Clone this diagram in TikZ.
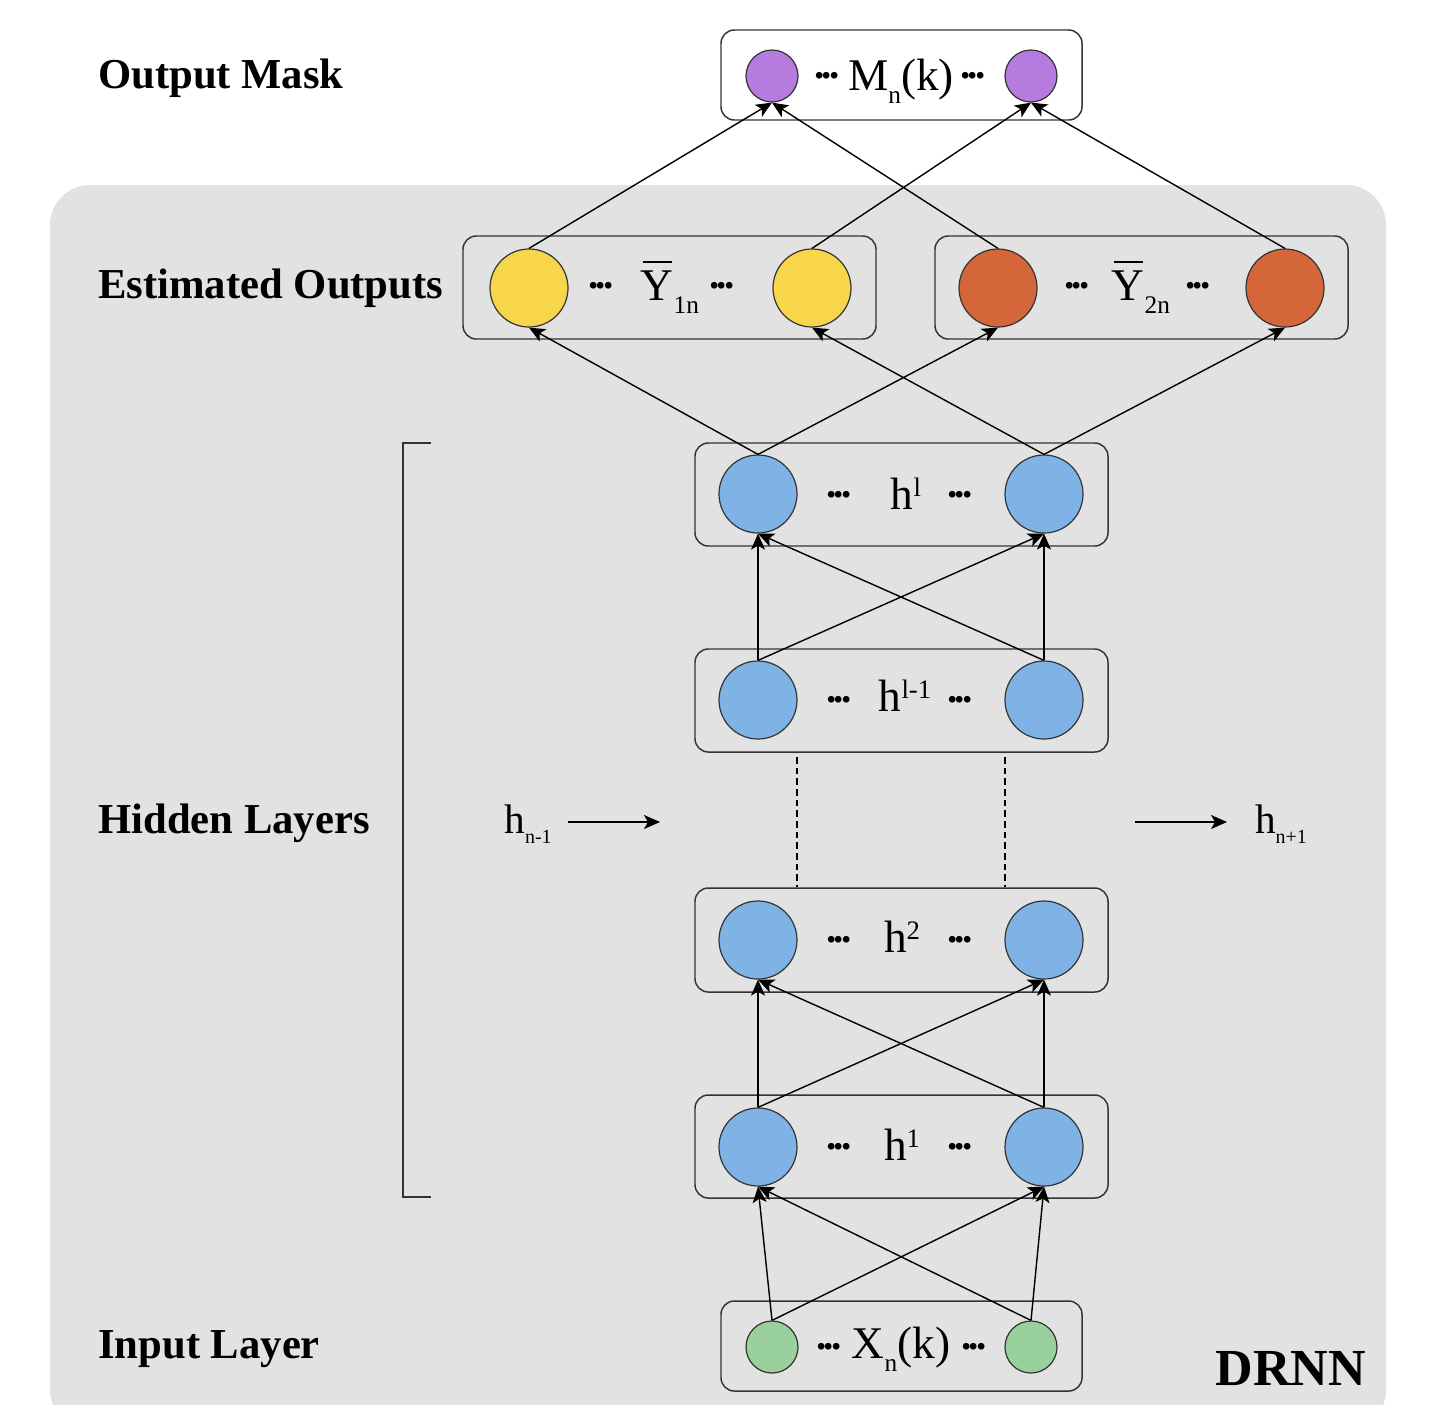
\documentclass[tikz,border=0pt]{standalone}
\usepackage{fontspec}
\setmainfont{Liberation Serif}
\usetikzlibrary{arrows.meta}
\definecolor{bgc}{HTML}{E2E2E2}
\definecolor{cpurple}{HTML}{B57BDF}
\definecolor{cyellow}{HTML}{F8D64B}
\definecolor{corange}{HTML}{D4663A}
\definecolor{cblue}{HTML}{7FB3E6}
\definecolor{cgreen}{HTML}{99D09B}
\definecolor{edgec}{HTML}{333333}
\newcommand{\lblf}{\fontsize{34}{34}\selectfont}
\newcommand{\lsub}[2][9pt]{\raisebox{-#1}{\fontsize{19}{19}\selectfont #2}}
\newcommand{\lsup}[1]{\raisebox{9.5pt}{\fontsize{20}{20}\selectfont #1}}
\newcommand{\ybar}{\ooalign{Y\cr\hidewidth\raisebox{28pt}{\rule{22pt}{1.3pt}}\hidewidth\cr}}
\newcommand{\dts}{\fontsize{31}{31}\selectfont\bfseries .\kern-2.3pt.\kern-2.3pt.}
\begin{document}
\begin{tikzpicture}[x=0.75pt,y=-0.75pt,
  heading/.style={font=\fontsize{32}{32}\selectfont\bfseries, inner sep=0pt, anchor=base west},
  lbl/.style={font=\lblf, inner sep=0pt, anchor=base},
  dotsnode/.style={inner sep=0pt, anchor=center},
  layerbox/.style={draw=edgec, line width=1.1pt, rounded corners=10pt},
  bigc/.style={circle, draw=edgec, line width=0.9pt, minimum size=58.5pt, inner sep=0pt},
  smallc/.style={circle, draw=edgec, line width=0.9pt, minimum size=39pt, inner sep=0pt},
  conn/.style={draw=black, line width=1.05pt, -{Stealth[length=12pt,width=10.5pt,inset=3pt]}},
]
\useasboundingbox (0,0) rectangle (1433,1404);
\fill[white] (0,0) rectangle (1433,1404);
% background
\fill[bgc, rounded corners=30pt] (50,185) rectangle (1386,1430);

% boxes
\draw[layerbox, fill=white] (721,30) rectangle (1082,120);
\draw[layerbox, fill=bgc] (463,236) rectangle (876,339);
\draw[layerbox, fill=bgc] (935,236) rectangle (1348,339);
\draw[layerbox, fill=bgc] (695,443) rectangle (1108,546);
\draw[layerbox, fill=bgc] (695,649) rectangle (1108,752);
\draw[layerbox, fill=bgc] (695,888) rectangle (1108,992);
\draw[layerbox, fill=bgc] (695,1095) rectangle (1108,1198);
\draw[layerbox, fill=bgc] (721,1301) rectangle (1082,1391);

% circles
\node[smallc, fill=cpurple] (m1) at (772,76) {};
\node[smallc, fill=cpurple] (m2) at (1031,76) {};
\node[bigc, fill=cyellow] (y1) at (529,288) {};
\node[bigc, fill=cyellow] (y2) at (812,288) {};
\node[bigc, fill=corange] (o1) at (998,288) {};
\node[bigc, fill=corange] (o2) at (1285,288) {};
\node[bigc, fill=cblue] (ha1) at (758,494) {};
\node[bigc, fill=cblue] (ha2) at (1044,494) {};
\node[bigc, fill=cblue] (hb1) at (758,700) {};
\node[bigc, fill=cblue] (hb2) at (1044,700) {};
\node[bigc, fill=cblue] (hc1) at (758,940) {};
\node[bigc, fill=cblue] (hc2) at (1044,940) {};
\node[bigc, fill=cblue] (hd1) at (758,1147) {};
\node[bigc, fill=cblue] (hd2) at (1044,1147) {};
\node[smallc, fill=cgreen] (x1) at (772,1347) {};
\node[smallc, fill=cgreen] (x2) at (1031,1347) {};

% dots
\node[dotsnode] (dm1) at (827,76) {\dts};
\node[dotsnode] (dm2) at (973,76) {\dts};
\node[dotsnode] (dy1) at (601,286) {\dts};
\node[dotsnode] (dy2) at (722,286) {\dts};
\node[dotsnode] (do1) at (1077,286) {\dts};
\node[dotsnode] (do2) at (1198,286) {\dts};
\node[dotsnode] (da1) at (839,495) {\dts};
\node[dotsnode] (da2) at (960,495) {\dts};
\node[dotsnode] (db1) at (839,700) {\dts};
\node[dotsnode] (db2) at (960,700) {\dts};
\node[dotsnode] (dc1) at (839,940) {\dts};
\node[dotsnode] (dc2) at (960,940) {\dts};
\node[dotsnode] (dd1) at (839,1147) {\dts};
\node[dotsnode] (dd2) at (960,1147) {\dts};
\node[dotsnode] (dx1) at (829,1347) {\dts};
\node[dotsnode] (dx2) at (974,1347) {\dts};

% labels
\node[lbl] (tm) at (901,90) {M\lsub[10pt]{n}(k)};
\node[lbl] (ty1) at (670,300) {\ybar\lsub[10pt]{1n}};
\node[lbl] (ty2) at (1141,300) {\ybar\lsub[10pt]{2n}};
\node[lbl] (ta) at (906,509) {h\lsup{l}};
\node[lbl] (tb) at (905,711) {h\lsup{l-1}};
\node[lbl] (tc) at (902,952) {h\lsup{2}};
\node[lbl] (td) at (902,1160) {h\lsup{1}};
\node[lbl] (tx) at (901,1358) {X\lsub[10pt]{n}(k)};

% headings
\node[heading] (hom) at (98,88) {Output Mask};
\node[heading] (heo) at (98,298) {Estimated Outputs};
\node[heading] (hhl) at (98,833) {Hidden Layers};
\node[heading] (hil) at (98,1358) {Input Layer};
\node[font=\fontsize{39}{39}\selectfont\bfseries, inner sep=0pt, anchor=base east] (drnn) at (1366,1385) {DRNN};

% bracket
\draw[line width=1pt, edgec] (431,443) -- (403,443) -- (403,1197) -- (431,1197);

% recurrent inputs
\node[font=\fontsize{31}{31}\selectfont, inner sep=0pt, anchor=base] (hprev) at (528,833) {h\raisebox{-8pt}{\fontsize{15}{15}\selectfont n-1}};
\node[font=\fontsize{31}{31}\selectfont, inner sep=0pt, anchor=base] (hnext) at (1281,833) {h\raisebox{-8pt}{\fontsize{15}{15}\selectfont n+1}};
\coordinate (ap1) at (568,822);
\coordinate (ap2) at (660,822);
\coordinate (an1) at (1135,822);
\coordinate (an2) at (1227,822);
\draw[conn] (ap1) -- (ap2);
\draw[conn] (an1) -- (an2);

% dashed
\coordinate (ds1) at (797,757);
\coordinate (de1) at (797,887);
\coordinate (ds2) at (1005,757);
\coordinate (de2) at (1005,887);
\draw[line width=0.8pt, dash pattern=on 5pt off 3pt] (ds1) -- (de1);
\draw[line width=0.8pt, dash pattern=on 5pt off 3pt] (ds2) -- (de2);

% connectors
\foreach \s in {x1,x2}{\foreach \t in {hd1,hd2}{\draw[conn] (\s.north) -- (\t.south);}}
\foreach \s in {hd1,hd2}{\foreach \t in {hc1,hc2}{\draw[conn] (\s.north) -- (\t.south);}}
\foreach \s in {hb1,hb2}{\foreach \t in {ha1,ha2}{\draw[conn] (\s.north) -- (\t.south);}}
\draw[conn] (ha1.north) -- (y1.south);
\draw[conn] (ha1.north) -- (o1.south);
\draw[conn] (ha2.north) -- (y2.south);
\draw[conn] (ha2.north) -- (o2.south);
\draw[conn] (y1.north) -- (m1.south);
\draw[conn] (o1.north) -- (m1.south);
\draw[conn] (y2.north) -- (m2.south);
\draw[conn] (o2.north) -- (m2.south);
\end{tikzpicture}
\end{document}
